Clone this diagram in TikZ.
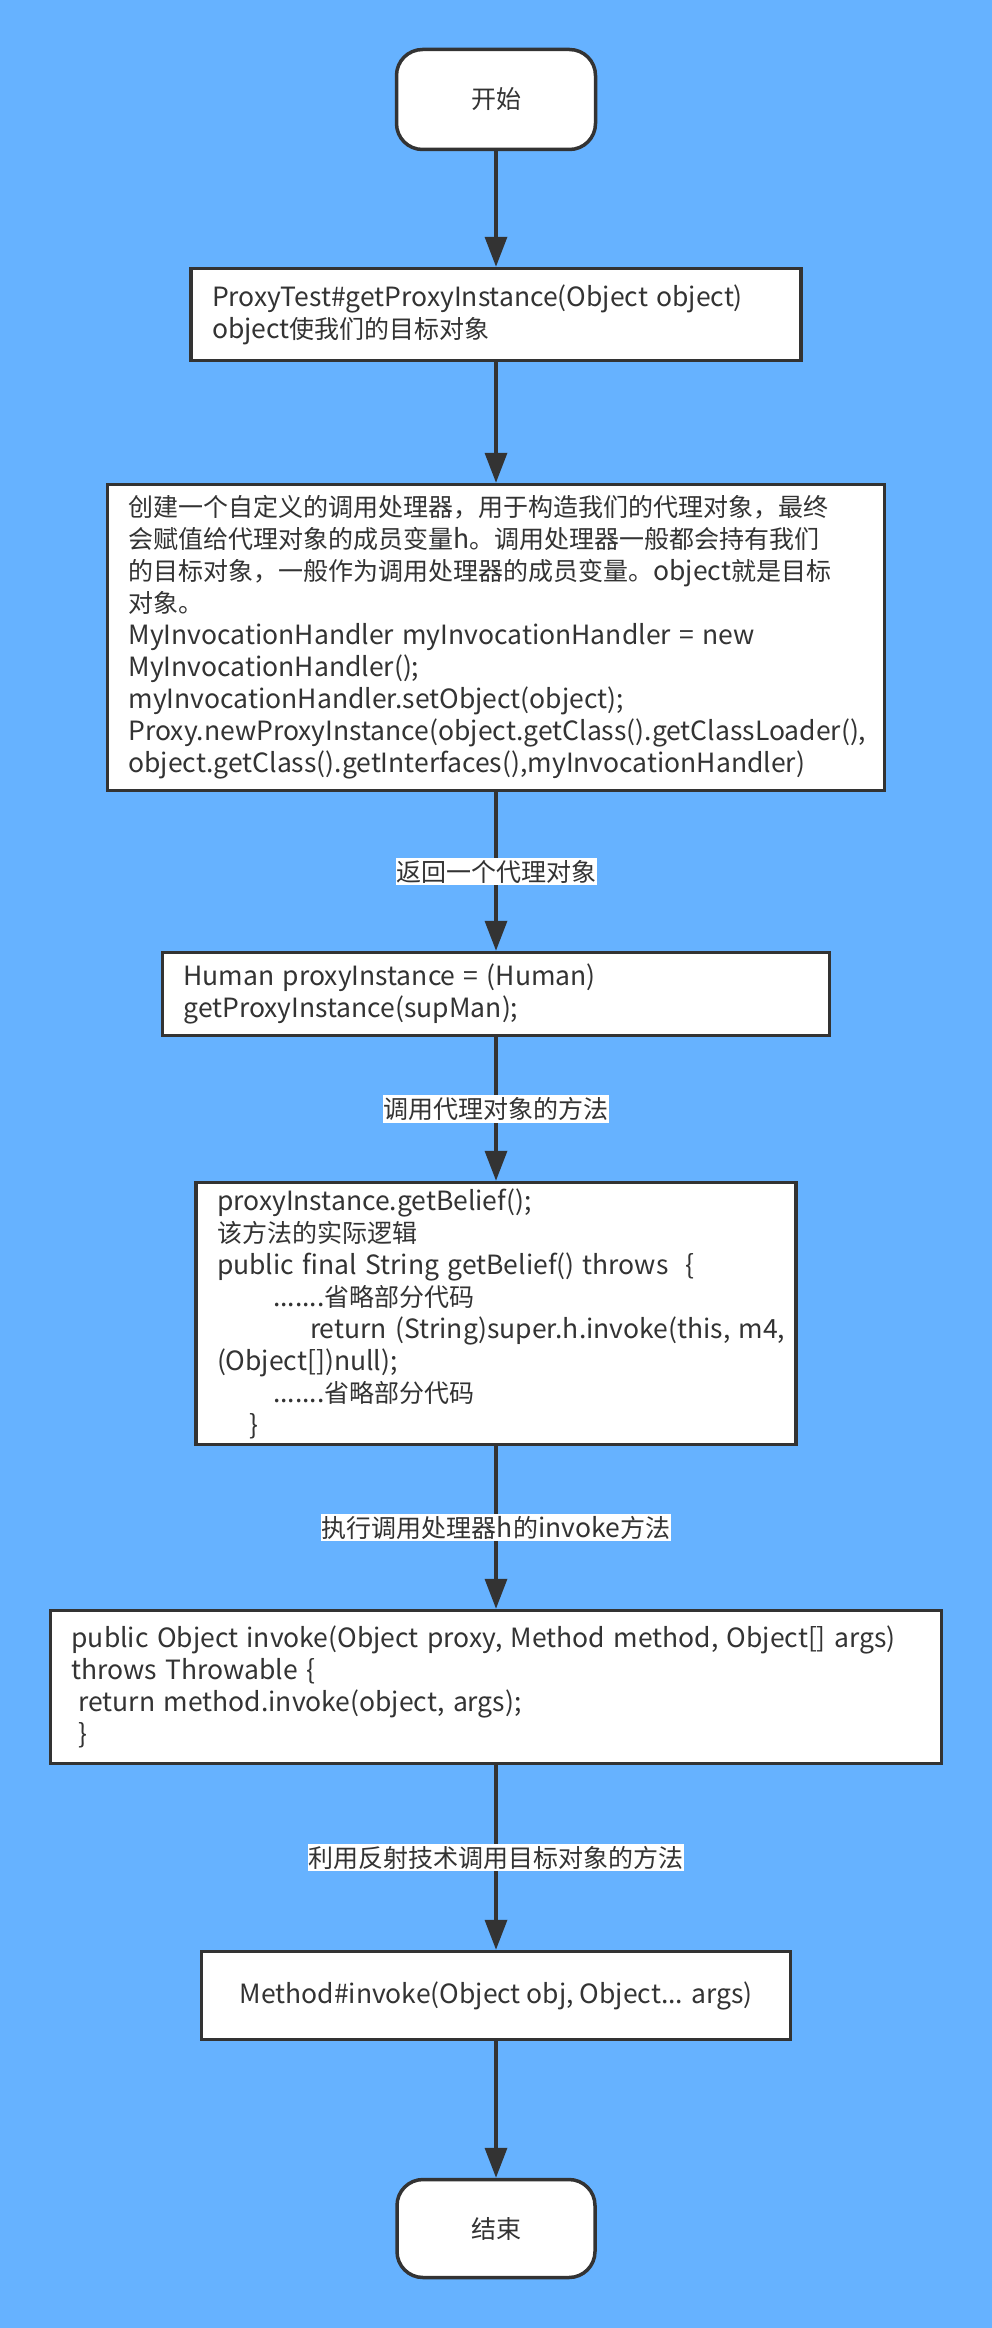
\documentclass[tikz,border=0pt]{standalone}
\usepackage{fontspec}
\setmainfont{Noto Sans CJK SC}
\newfontfamily\lat{Noto Sans CJK SC}[Scale=1.06]
\usetikzlibrary{arrows.meta}
\definecolor{bg}{RGB}{102,178,255}
\definecolor{ink}{RGB}{51,51,51}
\newcommand\mline[1]{\mbox{\lat #1}}
\newcommand\zhline[1]{\mbox{#1}}
\newcommand\la[1]{{\lat #1}}
\begin{document}
\begin{tikzpicture}[x=1pt,y=-1pt,
  txt/.style={font=\fontsize{25}{32}\selectfont, text=ink},
  term/.style={txt, draw=ink, line width=3.5pt, fill=white, rounded corners=26pt,
    minimum width=199pt, minimum height=100pt, inner sep=0pt},
  proc/.style={txt, draw=ink, line width=3.5pt, fill=white, inner xsep=21pt,
    inner ysep=0pt, align=left},
  lbl/.style={txt, fill=white, inner xsep=0.5pt, inner ysep=2pt},
  arr/.style={draw=ink, line width=3.5pt, -{Triangle[length=30pt,width=22pt]}}]
\fill[bg] (0,0) rectangle (992,2328);

\node[term] (start) at (496,99.5) {开始};

\node[proc, text width=568pt, minimum height=92pt] (b1) at (496,314.5)
  {\mline{ProxyTest\#getProxyInstance(Object object)}\\
   \zhline{\la{object}使我们的目标对象}};

\node[proc, text width=735pt, minimum height=306pt] (b2) at (496,637.5)
  {\zhline{创建一个自定义的调用处理器，用于构造我们的代理对象，最终}\\
   \zhline{会赋值给代理对象的成员变量\la{h}。调用处理器一般都会持有我们}\\
   \zhline{的目标对象，一般作为调用处理器的成员变量。\la{object}就是目标}\\
   \zhline{对象。}\\
   \mline{MyInvocationHandler myInvocationHandler = new}\\
   \mline{MyInvocationHandler();}\\
   \mline{myInvocationHandler.setObject(object);}\\
   \mline{Proxy.newProxyInstance(object.getClass().getClassLoader(),}\\
   \mline{object.getClass().getInterfaces(),myInvocationHandler)}};

\node[proc, text width=625pt, minimum height=83pt] (b3) at (496,994)
  {\mline{Human proxyInstance = (Human)}\\
   \mline{getProxyInstance(supMan);}};

\node[proc, text width=558pt, minimum height=262pt] (b4) at (496,1313.5)
  {\mline{proxyInstance.getBelief();}\\
   \zhline{该方法的实际逻辑}\\
   \mline{public final String getBelief() throws\ \ \{}\\
   \zhline{\hspace*{56pt}\la{.......}省略部分代码}\\
   \mline{\hspace*{93pt}return (String)super.h.invoke(this, m4,}\\
   \mline{(Object[])null);}\\
   \zhline{\hspace*{56pt}\la{.......}省略部分代码}\\
   \mline{\hspace*{32pt}\}}};

\node[proc, text width=849pt, minimum height=153pt] (b5) at (496,1687)
  {\mline{public Object invoke(Object proxy, Method method, Object[] args)}\\
   \mline{throws Throwable \{}\\
   \mline{\hspace*{7pt}return method.invoke(object, args);}\\
   \mline{\hspace*{7pt}\}}};

\node[proc, align=center, minimum width=589pt, minimum height=88pt] (b6) at (496,1995.5)
  {\mline{Method\#invoke(Object obj, Object... args)}};

\node[term, minimum width=198pt, minimum height=98pt] (end) at (496,2228.5) {结束};

\draw[arr] (start.south) -- (b1.north);
\draw[arr] (b1.south) -- (b2.north);
\draw[arr] (b2.south) -- node[lbl] (l1) {返回一个代理对象} (b3.north);
\draw[arr] (b3.south) -- node[lbl] (l2) {调用代理对象的方法} (b4.north);
\draw[arr] (b4.south) -- node[lbl] (l3) {执行调用处理器\la{h}的\la{invoke}方法} (b5.north);
\draw[arr] (b5.south) -- node[lbl] (l4) {利用反射技术调用目标对象的方法} (b6.north);
\draw[arr] (b6.south) -- (end.north);
\end{tikzpicture}
\end{document}
